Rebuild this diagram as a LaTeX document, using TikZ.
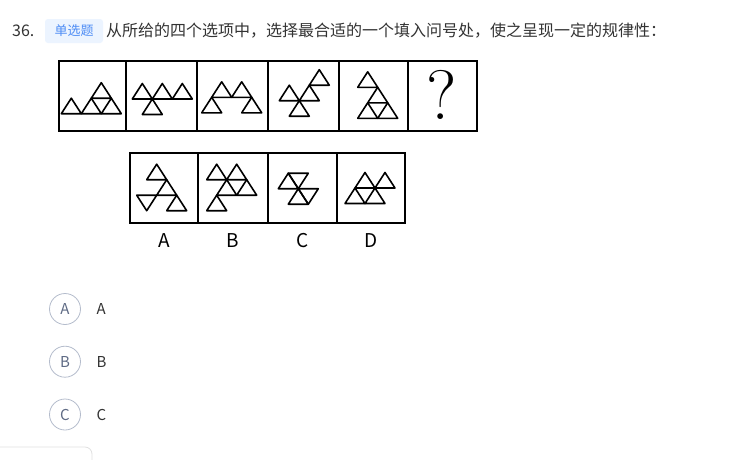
\documentclass[tikz,border=0pt]{standalone}
\usepackage{fontspec}
\usepackage{xcolor}
\usepackage{tikz}
\newfontfamily\cjk{Noto Sans CJK SC}
\definecolor{txt}{HTML}{333333}
\definecolor{tagbg}{HTML}{ECF4FF}
\definecolor{tagfg}{HTML}{4D8CF5}
\definecolor{ring}{HTML}{B4BCCC}
\definecolor{ringtxt}{HTML}{5F6B85}
\tikzset{
  tri/.style={line width=1.6pt, line join=round},
  cell/.style={line width=1.4pt},
  optring/.style={circle, draw=ring, line width=0.8pt, minimum size=31pt, inner sep=0pt,
    text=ringtxt, font=\cjk\fontsize{15}{15}\selectfont},
  opttext/.style={anchor=west, text=txt, font=\cjk\fontsize{15}{15}\selectfont},
}
% up triangle from its lower left corner, down triangle from its upper left corner
\newcommand{\uptri}[2]{\draw[tri] ({#1*20},{-#2*15.5}) -- ++(20,0) -- ++(-10,-15.5) -- cycle;}
\newcommand{\dntri}[2]{\draw[tri] ({#1*20},{-#2*15.5}) -- ++(20,0) -- ++(-10,15.5) -- cycle;}

\begin{document}
\begin{tikzpicture}[x=1pt,y=-1pt]
  \clip (0,0) rectangle (740,459);
  \fill[white] (0,0) rectangle (740,459);
  % header
  \node[anchor=west, text=txt, font=\cjk\fontsize{16}{16}\selectfont, inner sep=0pt] (num) at (12,31) {36.};
  \fill[tagbg, rounded corners=3pt] (45,19) rectangle (103,43);
  \node[text=tagfg, font=\cjk\fontsize{13}{13}\selectfont, inner sep=0pt] (tag) at (74,31) {单选题};
  \node[anchor=west, text=txt, font=\cjk\fontsize{16}{16}\selectfont, inner sep=0pt] (stem) at (106,31)
    {从所给的四个选项中，选择最合适的一个填入问号处，使之呈现一定的规律性：};
  % question row
  \foreach \xa/\xb in {59/126,126/197,197/268,268/339,339/408,408/477} {
    \draw[cell] (\xa,61) rectangle (\xb,131);
  }
  \begin{scope}[shift={(61.3,113.7)}]
    \foreach \a/\b in {0/0,1/0,2/0,1.5/1} { \uptri{\a}{\b} }
  \end{scope}
  \begin{scope}[shift={(132.3,99)}]
    \foreach \a/\b in {0/0,1/0,2/0,0.5/-1} { \uptri{\a}{\b} }
  \end{scope}
  \begin{scope}[shift={(211.7,97.3)}]
    \foreach \a/\b in {0/0,1/0,-0.5/-1,1.5/-1} { \uptri{\a}{\b} }
  \end{scope}
  \begin{scope}[shift={(279.3,100.7)}]
    \foreach \a/\b in {0/0,1/0,0.5/-1,1.5/1} { \uptri{\a}{\b} }
  \end{scope}
  \begin{scope}[shift={(357.7,87.3)}]
    \foreach \a/\b in {0/0,0.5/-1,0/-2,1/-2} { \uptri{\a}{\b} }
  \end{scope}
  \node[inner sep=0pt, font=\fontsize{70}{70}\selectfont] (qmark) at (442,95) {?};
  % answer row
  \foreach \xa/\xb in {130/198,198/268,268/337,337/405} {
    \draw[cell] (\xa,153) rectangle (\xb,223);
  }
  \begin{scope}[shift={(146.7,179.7)}]
    \foreach \a/\b in {0/0,0.5/-1,1/-2} { \uptri{\a}{\b} }
    \dntri{-0.5}{-1}
  \end{scope}
  \begin{scope}[shift={(206.7,179.7)}]
    \foreach \a/\b in {0/0,1/0,0.5/-1,1.5/-1,0/-2} { \uptri{\a}{\b} }
  \end{scope}
  \begin{scope}[shift={(298.3,188.7)}]
    \foreach \a/\b in {-0.5/-1,-1/0} { \uptri{\a}{\b} }
    \foreach \a/\b in {-0.5/1,0/0} { \dntri{\a}{\b} }
  \end{scope}
  \begin{scope}[shift={(355,188)}]
    \foreach \a/\b in {0/0,1/0,-0.5/-1,0.5/-1} { \uptri{\a}{\b} }
  \end{scope}
  \foreach \l/\x in {A/164,B/233,C/302.5,D/371} {
    \node[text=black, font=\cjk\fontsize{19}{19}\selectfont] (lab\l) at (\x,241) {\l};
  }
  % choices
  \foreach \l/\y in {A/309,B/361.7,C/414.5} {
    \node[optring] (ring\l) at (65,\y) {\l};
    \node[opttext] (opt\l) at (93,\y) {\l};
  }
  % card at the bottom edge
  \draw[black!12, line width=0.8pt, rounded corners=7pt, fill=white] (-10,447) rectangle (92,480);
\end{tikzpicture}
\end{document}
